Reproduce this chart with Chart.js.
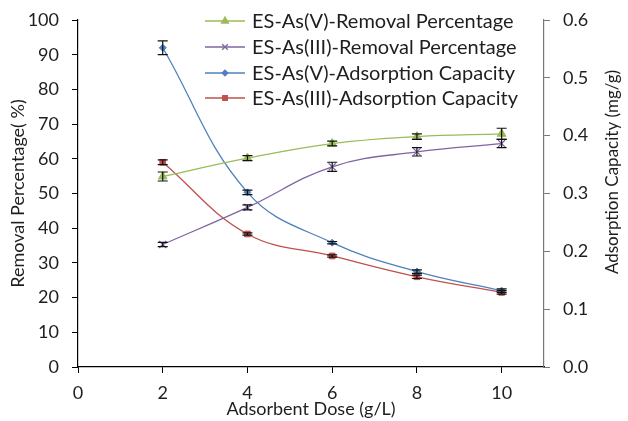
<!DOCTYPE html>
<html>
<head>
<meta charset="utf-8">
<script src="https://cdn.jsdelivr.net/npm/chart.js@4/dist/chart.umd.min.js"></script>
<style>
  html, body { margin: 0; padding: 0; background: #fff; }
  #wrap { width: 628px; height: 421px; position: relative; }
</style>
</head>
<body>
<div id="wrap"><canvas id="chart" width="628" height="421"></canvas></div>
<script>
// ===== 데이터 =====
const doses = [2, 4, 6, 8, 10];
const xTicks = [0, 2, 4, 6, 8, 10];

const removalV = [54.9, 60.2, 64.4, 66.4, 67.2];
const removalVErr = [1.3, 0.7, 0.7, 0.8, 1.6];
const removalIII = [35.3, 46.0, 57.7, 62.0, 64.4];
const removalIIIErr = [0.6, 0.7, 1.3, 1.2, 1.2];

const capacityV = [0.552, 0.302, 0.215, 0.165, 0.132];
const capacityVErr = [0.012, 0.004, 0.002, 0.003, 0.003];
const capacityIII = [0.354, 0.230, 0.192, 0.156, 0.129];
const capacityIIIErr = [0.004, 0.002, 0.002, 0.003, 0.003];

const seriesLabels = [
    'ES-As(V)-Removal Percentage',
    'ES-As(III)-Removal Percentage',
    'ES-As(V)-Adsorption Capacity',
    'ES-As(III)-Adsorption Capacity'
];
const rightTitle = 'Adsorption Capacity (mg/g)';

const FONT = "Lato, 'Open Sans', sans-serif";
const TEXT_COLOR = '#1e1e1e';

function toPoints(values) {
    return doses.map((x, i) => ({ x: x, y: values[i] }));
}

function makeSeries(label, values, errs, color, style, radius, axis) {
    return {
        label: label,
        data: toPoints(values),
        errors: errs,
        yAxisID: axis,
        borderColor: color,
        backgroundColor: color,
        pointBorderColor: color,
        pointBackgroundColor: color,
        pointStyle: style,
        pointRadius: radius,
        pointBorderWidth: style === 'crossRot' ? 1.2 : 1,
        borderWidth: 1.3,
        tension: 0.4,
        fill: false
    };
}

// 세로축 폭 고정 + 위쪽 여백은 layout padding 으로만
function fitVertical(width) {
    return scale => {
        scale.width = width;
        scale.paddingTop = 8;
    };
}

// ===== 오차 막대 =====
const errorBarPlugin = {
    id: 'errorBars',
    afterDatasetsDraw(chart) {
        const ctx = chart.ctx;
        const xScale = chart.scales.x;
        ctx.save();
        ctx.strokeStyle = '#111';
        ctx.lineWidth = 1.2;
        chart.data.datasets.forEach(ds => {
            const yScale = chart.scales[ds.yAxisID];
            ds.data.forEach((p, i) => {
                const e = ds.errors[i];
                const px = xScale.getPixelForValue(p.x);
                const top = yScale.getPixelForValue(p.y + e);
                const bot = yScale.getPixelForValue(p.y - e);
                ctx.beginPath();
                ctx.moveTo(px, top); ctx.lineTo(px, bot);
                ctx.moveTo(px - 5, top); ctx.lineTo(px + 5, top);
                ctx.moveTo(px - 5, bot); ctx.lineTo(px + 5, bot);
                ctx.stroke();
            });
        });
        ctx.restore();
    }
};

// ===== 범례 (차트 안쪽 오른쪽 위) + 오른쪽 축 제목 =====
const insideLegendPlugin = {
    id: 'insideLegend',
    afterDraw(chart) {
        const ctx = chart.ctx;
        const x0 = 205, x1 = 245, tx = 252;
        const rows = [21, 47, 73, 98];
        ctx.save();
        ctx.font = '20px ' + FONT;
        ctx.textBaseline = 'middle';
        chart.data.datasets.forEach((ds, i) => {
            const y = rows[i];
            ctx.strokeStyle = ds.borderColor;
            ctx.lineWidth = 1.3;
            ctx.beginPath();
            ctx.moveTo(x0, y); ctx.lineTo(x1, y);
            ctx.stroke();
            ctx.fillStyle = ds.backgroundColor;
            Chart.helpers.drawPoint(ctx, {
                pointStyle: ds.pointStyle,
                radius: ds.pointRadius * 0.8,
                borderWidth: ds.pointBorderWidth
            }, (x0 + x1) / 2, y);
            ctx.fillStyle = TEXT_COLOR;
            ctx.fillText(ds.label, tx, y + 1);
        });

        // 오른쪽 축 제목 (아래에서 위로 읽힘)
        ctx.translate(613, 172);
        ctx.rotate(-Math.PI / 2);
        ctx.font = '17px ' + FONT;
        ctx.textAlign = 'center';
        ctx.fillStyle = TEXT_COLOR;
        ctx.fillText(rightTitle, 0, 0);
        ctx.restore();
    }
};

// ===== 차트 =====
const tickFont = { family: FONT, size: 18 };
const titleFont = { family: FONT, size: 18 };

new Chart(document.getElementById('chart').getContext('2d'), {
    type: 'line',
    data: {
        datasets: [
            makeSeries(seriesLabels[0], removalV, removalVErr, '#9BBB59', 'triangle', 5, 'y'),
            makeSeries(seriesLabels[1], removalIII, removalIIIErr, '#8064A2', 'crossRot', 5, 'y'),
            makeSeries(seriesLabels[2], capacityV, capacityVErr, '#4F81BD', 'rectRot', 3.5, 'y2'),
            makeSeries(seriesLabels[3], capacityIII, capacityIIIErr, '#C0504D', 'rect', 4, 'y2')
        ]
    },
    options: {
        responsive: false,
        animation: false,
        layout: { padding: { top: 20, left: 0, right: 0, bottom: 0 } },
        plugins: {
            legend: { display: false },
            tooltip: { enabled: false }
        },
        scales: {
            x: {
                type: 'linear',
                min: 0,
                max: 11,
                afterBuildTicks: scale => { scale.ticks = xTicks.map(v => ({ value: v })); },
                afterFit: scale => { scale.height = 54; },
                ticks: { color: TEXT_COLOR, font: tickFont, padding: 9, maxRotation: 0 },
                grid: { drawOnChartArea: false, color: '#000', tickLength: 6 },
                border: { color: '#000', width: 1.2 },
                title: { display: true, text: 'Adsorbent Dose (g/L)', color: TEXT_COLOR, font: titleFont, padding: { top: 0, bottom: 1 } }
            },
            y: {
                position: 'left',
                min: 0,
                max: 100,
                afterFit: fitVertical(78),
                ticks: { stepSize: 10, color: TEXT_COLOR, font: tickFont, padding: 13 },
                grid: { drawOnChartArea: false, color: '#000', tickLength: 6 },
                border: { color: '#000', width: 1.2 },
                title: { display: true, text: 'Removal Percentage( %)', color: TEXT_COLOR, font: titleFont, padding: { top: 7, bottom: 0 } }
            },
            y2: {
                position: 'right',
                min: 0,
                max: 0.6,
                afterFit: fitVertical(84),
                ticks: { stepSize: 0.1, color: TEXT_COLOR, font: tickFont, padding: 13, callback: v => v.toFixed(1) },
                grid: { drawOnChartArea: false, color: '#777', tickLength: 6 },
                border: { color: '#777', width: 1.2 },
                title: { display: false }
            }
        }
    },
    plugins: [errorBarPlugin, insideLegendPlugin]
});
</script>
</body>
</html>
